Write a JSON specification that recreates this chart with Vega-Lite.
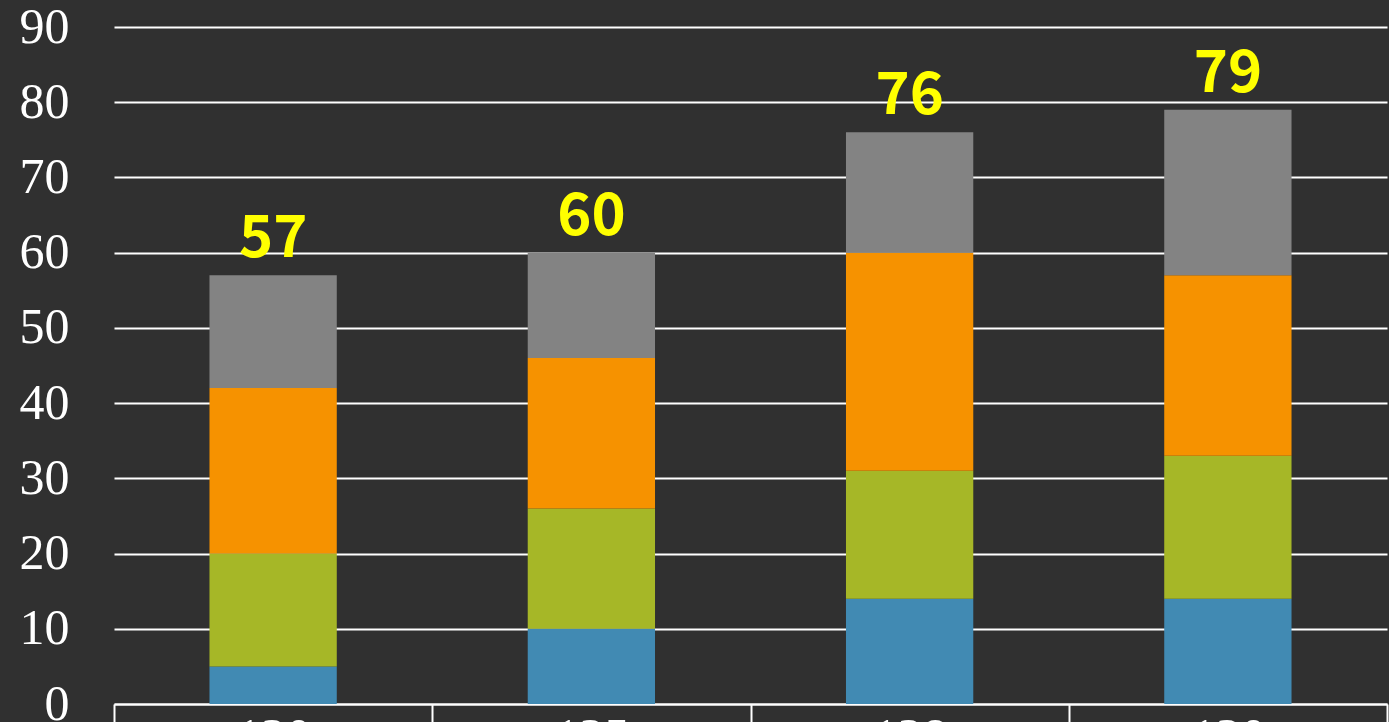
{
  "$schema": "https://vega.github.io/schema/vega-lite/v6.json",
  "autosize": {"type": "none"},
  "padding": {"left": 114, "top": 27, "right": 2, "bottom": 18},
  "width": 1273,
  "height": 677,
  "background": "#303030",
  "config": {"view": {"stroke": null}},
  "data": {"values": [
    {"cat": "120", "series": "S1", "k": 1, "value": 5},
    {"cat": "120", "series": "S2", "k": 2, "value": 15},
    {"cat": "120", "series": "S3", "k": 3, "value": 22},
    {"cat": "120", "series": "S4", "k": 4, "value": 15},
    {"cat": "125", "series": "S1", "k": 1, "value": 10},
    {"cat": "125", "series": "S2", "k": 2, "value": 16},
    {"cat": "125", "series": "S3", "k": 3, "value": 20},
    {"cat": "125", "series": "S4", "k": 4, "value": 14},
    {"cat": "128", "series": "S1", "k": 1, "value": 14},
    {"cat": "128", "series": "S2", "k": 2, "value": 17},
    {"cat": "128", "series": "S3", "k": 3, "value": 29},
    {"cat": "128", "series": "S4", "k": 4, "value": 16},
    {"cat": "130", "series": "S1", "k": 1, "value": 14},
    {"cat": "130", "series": "S2", "k": 2, "value": 19},
    {"cat": "130", "series": "S3", "k": 3, "value": 24},
    {"cat": "130", "series": "S4", "k": 4, "value": 22}
  ]},
  "encoding": {
    "x": {
      "field": "cat", "type": "nominal", "sort": null,
      "scale": {"paddingInner": 0, "paddingOuter": 0},
      "axis": {
        "title": null, "labelAngle": 0,
        "domainColor": "#ffffff", "domainWidth": 2,
        "tickColor": "#ffffff", "tickWidth": 2, "tickSize": 20, "tickBand": "extent",
        "labelColor": "#ffffff", "labelFont": "Liberation Serif", "labelFontSize": 50,
        "labelBaseline": "top", "labelPadding": -12
      }
    }
  },
  "layer": [
    {
      "mark": {"type": "bar", "width": {"band": 0.4}},
      "encoding": {
        "y": {
          "field": "value", "type": "quantitative", "stack": "zero",
          "scale": {"domain": [0, 90], "nice": false},
          "axis": {
            "title": null, "values": [0, 10, 20, 30, 40, 50, 60, 70, 80, 90],
            "domain": false, "ticks": false,
            "grid": true, "gridColor": "#ffffff", "gridWidth": 2, "gridOpacity": 1,
            "labelColor": "#ffffff", "labelFont": "Liberation Serif", "labelFontSize": 50,
            "labelPadding": 45
          }
        },
        "color": {
          "field": "series", "type": "nominal", "legend": null,
          "scale": {"domain": ["S1", "S2", "S3", "S4"], "range": ["#418AB3", "#A6B727", "#F69200", "#838383"]}
        },
        "order": {"field": "k", "type": "quantitative"}
      }
    },
    {
      "mark": {"type": "text", "color": "#FFFF00", "font": "Noto Sans CJK JP", "fontWeight": "bold", "fontSize": 58, "baseline": "alphabetic", "dy": -18},
      "encoding": {
        "y": {"aggregate": "sum", "field": "value", "type": "quantitative"},
        "text": {"aggregate": "sum", "field": "value", "type": "quantitative"}
      }
    }
  ]
}
